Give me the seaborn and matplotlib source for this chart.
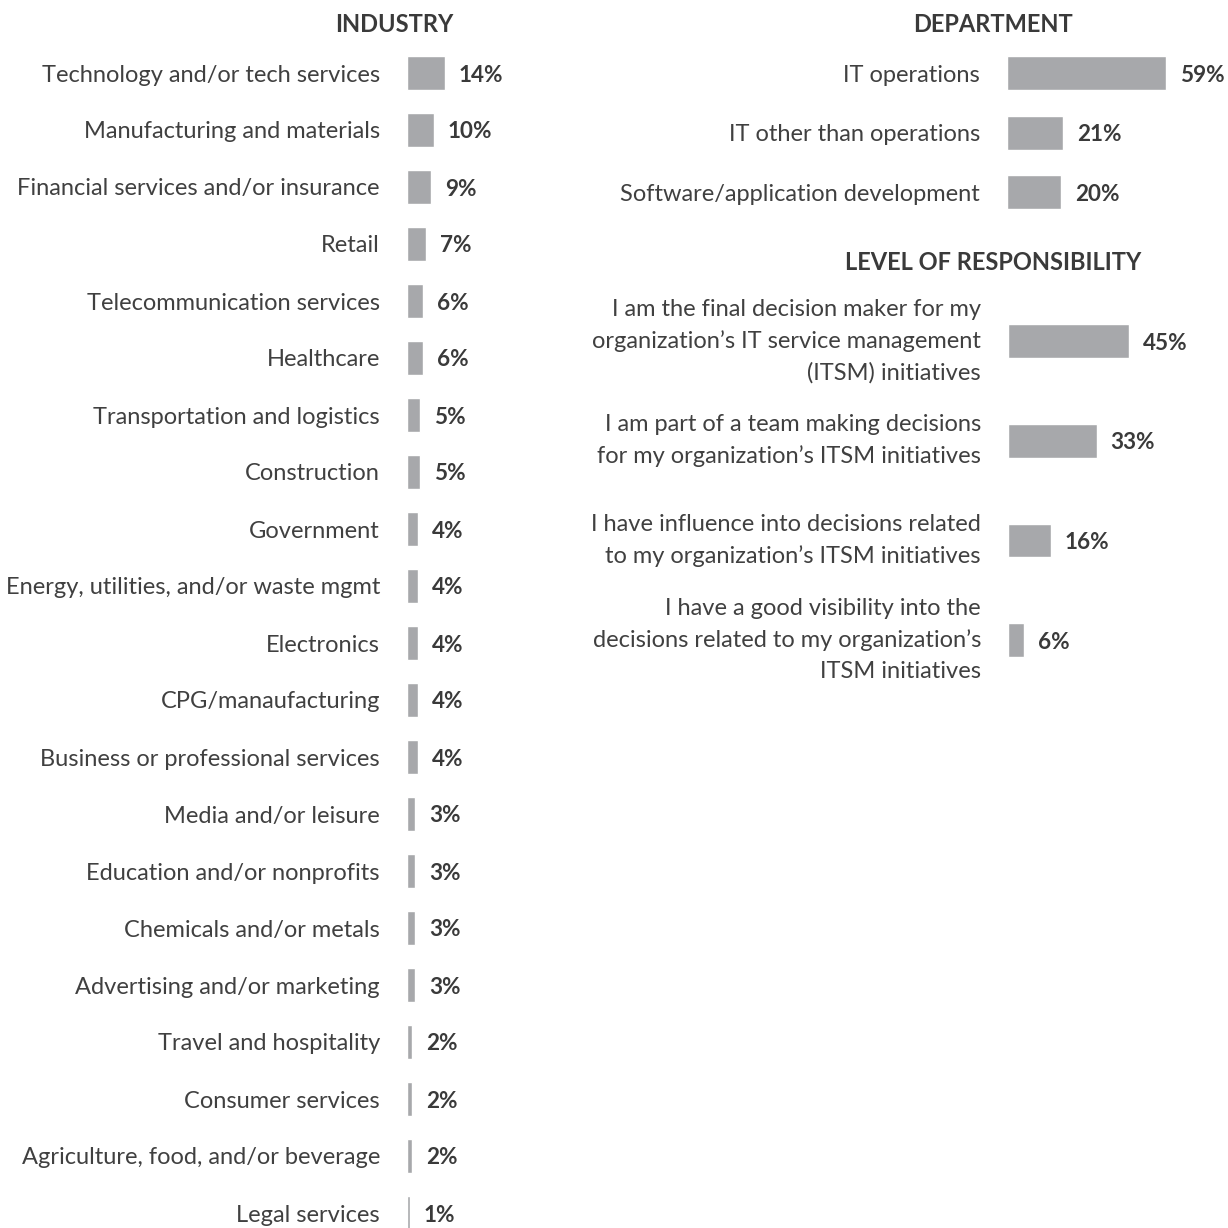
import matplotlib
matplotlib.use("Agg")
import matplotlib.pyplot as plt
import seaborn as sns
import pandas as pd

industries = [
    "Technology and/or tech services", "Manufacturing and materials",
    "Financial services and/or insurance", "Retail", "Telecommunication services",
    "Healthcare", "Transportation and logistics", "Construction", "Government",
    "Energy, utilities, and/or waste mgmt", "Electronics", "CPG/manaufacturing",
    "Business or professional services", "Media and/or leisure",
    "Education and/or nonprofits", "Chemicals and/or metals",
    "Advertising and/or marketing", "Travel and hospitality", "Consumer services",
    "Agriculture, food, and/or beverage", "Legal services",
]
industry_pct = [14, 10, 9, 7, 6, 6, 5, 5, 4, 4, 4, 4, 4, 3, 3, 3, 3, 2, 2, 2, 1]

departments = ["IT operations", "IT other than operations", "Software/application development"]
department_pct = [59, 21, 20]

levels = [
    "I am the final decision maker for my\norganization\u2019s IT service management\n(ITSM) initiatives",
    "I am part of a team making decisions\nfor my organization\u2019s ITSM initiatives",
    "I have influence into decisions related\nto my organization\u2019s ITSM initiatives",
    "I have a good visibility into the\ndecisions related to my organization\u2019s\nITSM initiatives",
]
level_pct = [45, 33, 16, 6]

BAR = "#a7a8ab"
TXT = "#3a3a3a"
LBL = "#404040"
W = H = 1228
SCALE = 2.69  # pixels per percent

sns.set_theme(style="white")
plt.rcParams["font.family"] = ["Lato", "DejaVu Sans"]

fig = plt.figure(figsize=(W / 100, H / 100), dpi=100)
fig.patch.set_facecolor("white")

LABEL_FS = 17
VAL_FS = 16.2
TITLE_FS = 17


def make_axes(left_px, top_px, width_px, n_rows, spacing, bottom_px=None):
    if bottom_px is None:
        bottom_px = top_px + n_rows * spacing
    height_px = bottom_px - top_px
    ax = fig.add_axes([left_px / W, 1 - bottom_px / H, width_px / W, height_px / H])
    return ax, (height_px / spacing) - 0.5


def panel(ax, cats, vals, width, ybottom, width_px):
    df = pd.DataFrame({"cat": cats, "pct": vals})
    sns.barplot(data=df, x="pct", y="cat", color=BAR, width=width, ax=ax,
                saturation=1, orient="h")
    ax.set_xlim(0, width_px / SCALE)
    ax.set_ylim(ybottom, -0.5)
    for s in ax.spines.values():
        s.set_visible(False)
    ax.set_xticks([])
    ax.set_xlabel("")
    ax.set_ylabel("")
    ax.tick_params(axis="y", length=0, pad=19.5, labelsize=LABEL_FS, labelcolor=LBL)
    ax.set_facecolor("none")
    for c in ax.containers:
        texts = ax.bar_label(c, labels=[f"{v}%" for v in vals], padding=10,
                             fontsize=VAL_FS, fontweight="bold", color=TXT)
        for t in texts:
            t.set_va("center_baseline")


# Industry
ax1, yb1 = make_axes(407, 44.5, 200, len(industries), 57, bottom_px=1228)
panel(ax1, industries, industry_pct, 0.58, yb1, 200)

# Department
ax2, yb2 = make_axes(1007, 43.2, 210, len(departments), 59.6)
panel(ax2, departments, department_pct, 0.57, yb2, 210)

# Level of responsibility
ax3, yb3 = make_axes(1008, 291.2, 210, len(levels), 99.7)
panel(ax3, levels, level_pct, 0.34, yb3, 210)
for t in ax3.get_yticklabels():
    t.set_linespacing(1.57)
    t.set_multialignment("right")
    t.set_va("center")

fig.text(394 / W, 1 - 24.5 / H, "INDUSTRY", ha="center", va="center",
         fontsize=TITLE_FS, fontweight="bold", color=TXT)
fig.text(993 / W, 1 - 24.5 / H, "DEPARTMENT", ha="center", va="center",
         fontsize=TITLE_FS, fontweight="bold", color=TXT)
fig.text(993 / W, 1 - 262.5 / H, "LEVEL OF RESPONSIBILITY", ha="center", va="center",
         fontsize=TITLE_FS, fontweight="bold", color=TXT)

fig.savefig("out.png", dpi=100, facecolor="white")
